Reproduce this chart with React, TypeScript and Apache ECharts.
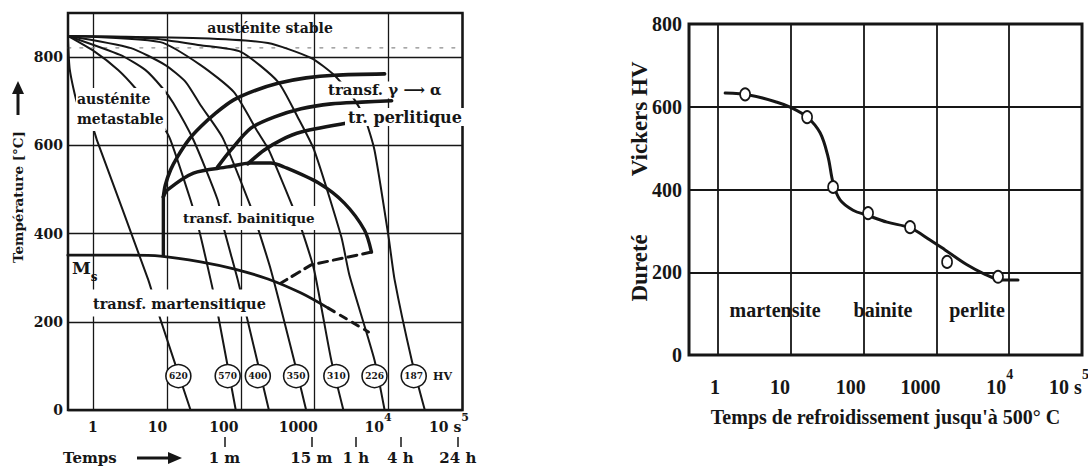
import React, { useEffect, useRef } from 'react';
import * as echarts from 'echarts';

const INK = '#161616';
const FONT_L = '"DejaVu Serif", serif';
const FONT_R = '"Liberation Serif", "Times New Roman", serif';

// ================= Left chart: CCT diagram (time in s, temperature in °C) =================
const cctTimeTicks = [1, 10, 100, 1000, 10000, 100000];
const cctTimeLabels = [['1', ''], ['10', ''], ['100', ''], ['1000', ''], ['10', '4'], ['10 s', '5']];
const cctTempTicks = [0, 200, 400, 600, 800];
const clockTimes = [60, 900, 3600, 14400, 86400];
const clockLabels = ['1 m', '15 m', '1 h', '4 h', '24 h'];
const ac3Temp = 821;

const cool620 = [[0.457, 848], [0.486, 771], [0.625, 691], [1, 639], [1.13, 612], [5.6, 295], [7.66, 220], [20.9, 0]];
const cool570 = [[0.457, 848], [1.065, 812], [2.19, 771], [3.73, 730], [5.97, 685], [8.96, 642], [11.2, 612], [20.9, 476], [26.8, 413], [39.1, 295], [48.7, 220], [85.5, 0]];
const cool400 = [[0.457, 848], [2.33, 805], [5.1, 771], [8.69, 730], [12.2, 696], [22.9, 612], [48.7, 476], [58.7, 413], [91, 295], [117, 220], [240, 0]];
const cool350 = [[0.457, 848], [3.19, 821], [9.54, 782], [17.9, 744], [28.6, 691], [56.9, 617], [137, 460], [170, 413], [256, 317], [526, 113], [766, 0]];
const cool310 = [[0.457, 848], [8.16, 834], [28.6, 782], [80.3, 721], [170, 630], [240, 589], [526, 453], [655, 413], [984, 317], [1676, 113], [2445, 0]];
const cool226 = [[0.457, 848], [5.97, 843], [28.6, 827], [100, 812], [319, 744], [597, 662], [984, 589], [2296, 392], [2946, 306], [6450, 113], [8830, 0]];
const cool187 = [[0.457, 848], [28.6, 843], [233, 832], [896, 798], [1841, 759], [3140, 714], [4710, 664], [6450, 589], [10000, 392], [12070, 295], [20560, 113], [30900, 0]];

const ferriteStart = [[8.96, 483], [9.54, 510], [11.2, 544], [13.9, 574], [19.6, 612], [28.6, 642], [45.7, 673], [80.3, 703], [160, 725], [319, 741], [766, 753], [1841, 759], [8830, 762]];
const pearliteStart = [[48.7, 551], [73.1, 589], [137, 639], [281, 664], [655, 683], [1676, 694], [4295, 698], [10990, 701]];
const pearliteEnd = [[124, 558], [206, 589], [350, 612], [655, 630], [2858, 651]];
const bainiteNose = [[8.96, 483], [10.2, 499], [22.9, 537], [66.5, 551], [137, 560], [256, 560], [385, 551], [1116, 515], [2520, 469], [4710, 408], [5870, 358]];
const bainiteWall = [[8.96, 483], [8.96, 351]];
const bainiteFinish = [[5870, 358], [2858, 347], [896, 329], [350, 288]];
const msLine = [[0.457, 351], [3.19, 351], [8.16, 349], [28.6, 336], [80.3, 320], [233, 297], [655, 265], [1527, 231]];
const mfLine = [[1527, 231], [3140, 200], [5345, 177]];

const hvValues = [620, 570, 400, 350, 310, 226, 187];
const hvTimes = [14.3, 66.5, 170, 560, 1963, 6450, 21880];
const hvTemp = 77;

// ================= Right chart: hardness vs cooling time =================
const hardTimeTicks = [1, 10, 100, 1000, 10000, 100000];
const hardTimeLabels = [['1', ''], ['10', ''], ['100', ''], ['1000', ''], ['10', '4'], ['10 s', '5']];
const hardTicks = [0, 200, 400, 600, 800];
const hardCurve = [[1.25, 633], [2.75, 628], [6.46, 611], [9.75, 599], [16.7, 575], [25.2, 537], [32.4, 479], [38, 416], [47.4, 375], [71.5, 350], [111, 338], [210, 321], [434, 307], [817, 278], [1313, 254], [2630, 218], [4650, 195], [7480, 182], [13200, 181]];
const hardPoints = [[2.35, 630], [16.7, 575], [38, 406], [115, 343], [434, 309], [1400, 225], [7020, 189]];
const phaseNames = ['martensite', 'bainite', 'perlite'];

const lg = Math.log10;
const toXY = (arr: number[][]) => arr.map(([t, v]) => [lg(t), v]);

const bold = (family: string, size: number) => ({ fontFamily: family, fontWeight: 'bold' as const, fontSize: size, color: INK });

function makeRich(family: string, size: number, supSize: number, lh: number, shifts: number[]) {
  const rich: Record<string, any> = {};
  shifts.concat([0]).forEach((p) => {
    rich['m' + p] = { ...bold(family, size), lineHeight: lh, padding: [0, p, 0, 0] };
    rich['u' + p] = { ...bold(family, supSize), lineHeight: supSize + 1, verticalAlign: 'top', padding: [0, p, 0, 0] };
  });
  return rich;
}

function makeFmt(labels: string[][], shifts: number[]) {
  return (v: number) => {
    const i = Math.round(v);
    if (i < 0 || i >= labels.length) return '';
    const [b, s] = labels[i];
    const p = shifts[i];
    if (!s) return `{m${p}|${b}}`;
    return `{m0|${b}}{u${p}|${s}}`;
  };
}

const leftShift = [0, 19, 34, 33, 21, 27];
const rightShift = [6, 22, 26, 32, 19, 26];

function line(data: number[][], width: number, opts: any = {}) {
  return {
    type: 'line',
    xAxisIndex: opts.xi ?? 0,
    yAxisIndex: opts.yi ?? 0,
    data: toXY(data),
    symbol: 'none',
    showSymbol: false,
    silent: true,
    smooth: opts.smooth ?? 0,
    z: opts.z ?? 2,
    lineStyle: { color: opts.color ?? INK, width, type: opts.dash ?? 'solid', cap: 'round' },
  };
}

function text(x: number, y: number, t: string, size: number, extra: any = {}, family = FONT_L) {
  return {
    type: 'text',
    x,
    y,
    z: 100,
    style: {
      text: t,
      fontFamily: family,
      fontWeight: 'bold',
      fontSize: size,
      fill: INK,
      align: extra.align ?? 'left',
      textAlign: extra.align ?? 'left',
      verticalAlign: extra.va ?? 'middle',
      textVerticalAlign: extra.va ?? 'middle',
      ...(extra.style || {}),
    },
  };
}

function buildOption(): any {
  const ticksL = cctTimeTicks.map(lg);
  const ticksR = hardTimeTicks.map(lg);
  const clockVals = clockTimes.map(lg);
  const whiteBg = (pad: number[]) => ({ backgroundColor: '#fff', padding: pad });

  return {
    animation: false,
    backgroundColor: '#fff',
    textStyle: { fontFamily: FONT_L },
    grid: [
      { left: 68, top: 13, right: 625.5, bottom: 61, show: true, borderColor: INK, borderWidth: 2.5, backgroundColor: 'transparent', containLabel: false, outerBoundsMode: 'none' },
      { left: 689, top: 24, right: 6, bottom: 116, show: true, borderColor: INK, borderWidth: 3, backgroundColor: 'transparent', containLabel: false, outerBoundsMode: 'none' },
    ],
    xAxis: [
      {
        gridIndex: 0, type: 'value', min: -0.338, max: 5, position: 'bottom',
        axisLine: { show: false },
        axisTick: { show: false, customValues: ticksL },
        axisLabel: { customValues: ticksL, margin: 2, formatter: makeFmt(cctTimeLabels, leftShift), rich: makeRich(FONT_L, 14, 11, 30, leftShift) },
        splitLine: { show: true, lineStyle: { color: INK, width: 1.3 } },
      },
      {
        gridIndex: 0, type: 'value', min: -0.338, max: 5, position: 'bottom', offset: 27,
        axisLine: { show: false },
        axisTick: { show: true, inside: false, length: 10, customValues: clockVals, lineStyle: { color: INK, width: 1.5 } },
        axisLabel: {
          customValues: clockVals, margin: 12, ...bold(FONT_L, 15), lineHeight: 18,
          formatter: (v: number) => {
            const i = clockVals.findIndex((c) => Math.abs(c - v) < 1e-6);
            return i >= 0 ? clockLabels[i] : '';
          },
        },
        splitLine: { show: false },
      },
      {
        gridIndex: 1, type: 'value', min: -0.4, max: 5, position: 'bottom',
        axisLine: { show: false },
        axisTick: { show: false, customValues: ticksR },
        axisLabel: { customValues: ticksR, margin: 12, formatter: makeFmt(hardTimeLabels, rightShift), rich: makeRich(FONT_R, 20, 14, 40, rightShift) },
        splitLine: { show: true, lineStyle: { color: INK, width: 1.8 } },
        name: "Temps de refroidissement jusqu'à 500° C",
        nameLocation: 'middle', nameGap: 52, nameMoveOverlap: false,
        nameTextStyle: { ...bold(FONT_R, 20) },
      },
    ],
    yAxis: [
      {
        gridIndex: 0, type: 'value', min: 0, max: 900,
        axisLine: { show: false },
        axisTick: { show: false, customValues: cctTempTicks },
        axisLabel: { customValues: cctTempTicks, margin: 5, ...bold(FONT_L, 14) },
        splitLine: { show: true, lineStyle: { color: INK, width: 1.3 } },
        name: 'Température [°C]', nameLocation: 'middle', nameGap: 43, nameMoveOverlap: false,
        nameTextStyle: { ...bold(FONT_L, 13.5), padding: [0, 0, 0, 29] },
      },
      {
        gridIndex: 1, type: 'value', min: 0, max: 800,
        axisLine: { show: false },
        axisTick: { show: false, customValues: hardTicks },
        axisLabel: { customValues: hardTicks, margin: 7, ...bold(FONT_R, 20) },
        splitLine: { show: true, lineStyle: { color: INK, width: 1.8 } },
        name: '{d|Dureté}{v|Vickers HV}', nameLocation: 'middle', nameGap: 38, nameMoveOverlap: false,
        nameTextStyle: {
          ...bold(FONT_R, 23),
          rich: {
            d: { ...bold(FONT_R, 23), padding: [0, 58, 0, 16] },
            v: { ...bold(FONT_R, 23) },
          },
        },
      },
    ],
    series: [
      line([[0.457, ac3Temp], [100000, ac3Temp]], 1.2, { color: '#8a8a8a', dash: [3, 9] }),
      ...[cool620, cool570, cool400, cool350, cool310, cool226, cool187].map((c) => line(c, 2, { smooth: 0.2 })),
      line(ferriteStart, 3.6, { smooth: 0.3 }),
      line(pearliteStart, 3.6, { smooth: 0.3 }),
      line(pearliteEnd, 3.6, { smooth: 0.3 }),
      line(bainiteNose, 3.4, { smooth: 0.3 }),
      line(bainiteWall, 3.4),
      line(bainiteFinish, 3, { dash: [9, 6] }),
      line(msLine, 2.8, { smooth: 0.3 }),
      line(mfLine, 3, { dash: [7, 7] }),
      {
        type: 'scatter', xAxisIndex: 0, yAxisIndex: 0, z: 5, silent: true,
        symbol: 'circle', symbolSize: [25, 23],
        data: hvTimes.map((t) => [lg(t), hvTemp]),
        itemStyle: { color: '#fff', borderColor: INK, borderWidth: 1.5, opacity: 1 },
        label: { show: true, position: 'inside', formatter: (p: any) => String(hvValues[p.dataIndex]), ...bold(FONT_L, 9) },
      },
      line(hardCurve, 3, { xi: 2, yi: 1, smooth: 0.35 }),
      {
        type: 'scatter', xAxisIndex: 2, yAxisIndex: 1, z: 5, silent: true,
        symbol: 'circle', symbolSize: [10, 12],
        data: toXY(hardPoints),
        itemStyle: { color: '#fff', borderColor: INK, borderWidth: 1.8, opacity: 1 },
      },
    ],
    graphic: {
      elements: [
        text(270, 28, 'austénite stable', 14, { align: 'center' }),
        text(76, 88, 'austénite\nmetastable', 14, { va: 'top', style: { lineHeight: 20, ...whiteBg([1, 2, 2, 1]) } }),
        text(325, 90, 'transf. γ ⟶ α', 15, { style: whiteBg([1, 3, 1, 3]) }),
        text(345, 117, 'tr. perlitique', 16, { style: whiteBg([1, 3, 1, 3]) }),
        text(180, 218, 'transf. bainitique', 13.5, { style: whiteBg([5, 3, 5, 3]) }),
        text(90, 303, 'transf. martensitique', 14.5, { style: whiteBg([6, 3, 6, 3]) }),
        {
          type: 'text', x: 72, y: 268, z: 100,
          style: {
            text: '{m|M}{s|s}', align: 'left', verticalAlign: 'middle',
            rich: { m: { ...bold(FONT_L, 17), fill: INK }, s: { ...bold(FONT_L, 12), fill: INK, verticalAlign: 'bottom', padding: [0, 0, -6, 0] } },
          },
        },
        text(433, 376, 'HV', 11),
        text(63, 458, 'Temps', 15),
        { type: 'line', z: 100, shape: { x1: 137, y1: 458, x2: 172, y2: 458 }, style: { stroke: INK, lineWidth: 3 } },
        { type: 'polygon', z: 100, shape: { points: [[168, 452], [182, 458], [168, 464]] }, style: { fill: INK } },
        { type: 'line', z: 100, shape: { x1: 18, y1: 115, x2: 18, y2: 92 }, style: { stroke: INK, lineWidth: 3 } },
        { type: 'polygon', z: 100, shape: { points: [[12, 94], [18, 81], [24, 94]] }, style: { fill: INK } },
        text(775, 310, phaseNames[0], 20, { align: 'center' }, FONT_R),
        text(883, 310, phaseNames[1], 20, { align: 'center' }, FONT_R),
        text(977, 310, phaseNames[2], 20, { align: 'center' }, FONT_R),
      ],
    },
  };
}

export default function App() {
  const ref = useRef<HTMLDivElement>(null);
  useEffect(() => {
    const chart = echarts.init(ref.current!, null, { renderer: 'svg' });
    chart.setOption(buildOption());
    return () => chart.dispose();
  }, []);
  return (
    <div
      ref={ref}
      style={{ position: 'absolute', left: 0, top: 0, width: 1088, height: 471, background: '#fff' }}
    />
  );
}
